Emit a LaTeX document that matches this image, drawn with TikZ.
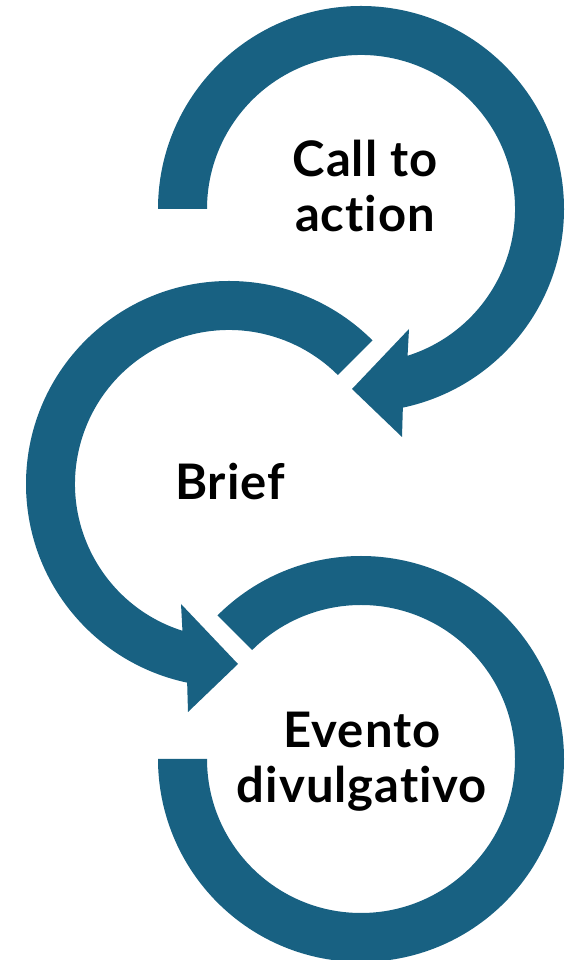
\documentclass[tikz,border=0pt]{standalone}
\usepackage{fontspec}
\setmainfont{Lato}[LetterSpace=2,Ligatures={NoCommon}]
\usetikzlibrary{calc}
\definecolor{ringblue}{RGB}{24,97,130}
\begin{document}
\begin{tikzpicture}[x=1pt,y=1pt,
  ring/.style={fill=ringblue, draw=none},
  lbl/.style={font=\fontsize{49}{55}\selectfont\bfseries, align=center, text=black, inner sep=0pt, anchor=base}]
\useasboundingbox (0,0) rectangle (579,960);
\coordinate (c1) at (361,751);
\coordinate (c2) at (229,476);
\coordinate (c3) at (361,201);
% top ring with arrow head
\fill[ring] ($(c1)+(180:203)$) arc[start angle=180,end angle=-78.1,radius=203]
  -- ($(c1)+(41,-228)$) -- ($(c1)+(-9,-180)$) -- ($(c1)+(48,-120)$)
  -- ($(c1)+(-72.4:154)$) arc[start angle=-72.4,end angle=180,radius=154] -- cycle;
% middle ring with arrow head
\fill[ring] ($(c2)+(45:203)$) arc[start angle=45,end angle=258.1,radius=203]
  -- ($(c2)+(-41,-228)$) -- ($(c2)+(9,-180)$) -- ($(c2)+(-48,-120)$)
  -- ($(c2)+(252.4:154)$) arc[start angle=252.4,end angle=45,radius=154] -- cycle;
% bottom ring
\fill[ring] ($(c3)+(135:203)$) arc[start angle=135,end angle=-180,radius=203]
  -- ($(c3)+(-180:154)$) arc[start angle=-180,end angle=135,radius=154] -- cycle;
\node[lbl] (t1) at (365,728) {Call to\\action};
\node[lbl] (t2) at (230,460) {Brief};
\node[lbl] (t3) at (362,157) {Evento\\divulgativo};
\end{tikzpicture}
\end{document}
